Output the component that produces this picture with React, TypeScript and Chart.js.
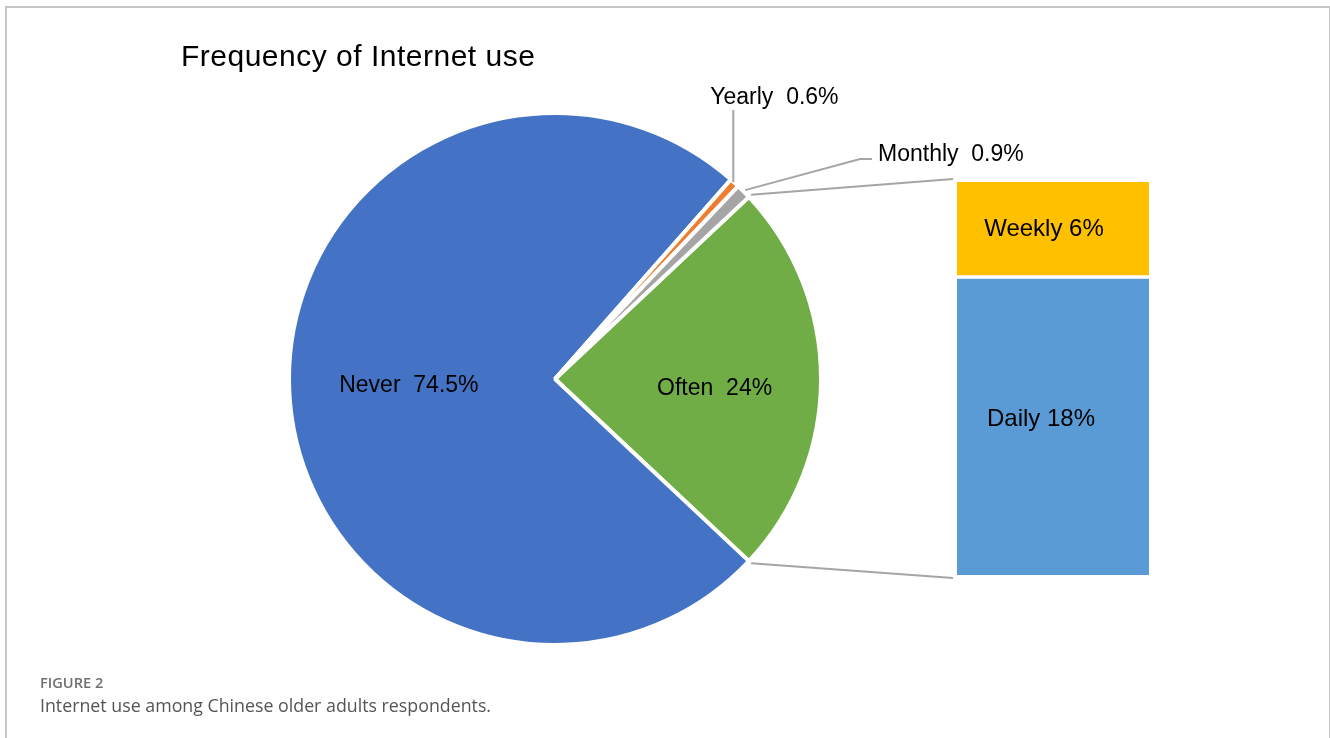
import React, { useEffect, useRef } from "react";
import { Chart, registerables } from "chart.js";

Chart.register(...registerables);

// ---- data ----
const pieLabels = ["Often", "Never", "Yearly", "Monthly"];
const pieValues = [24, 74.5, 0.6, 0.9];
const pieColors = ["#70AD47", "#4472C4", "#ED7D31", "#A5A5A5"];

const barLabels = ["Daily", "Weekly"];
const barValues = [18.2, 5.8];
const barColors = ["#5B9BD5", "#FFC000"];

const titleText = "Frequency of Internet use";
const figureLabel = "FIGURE 2";
const captionText = "Internet use among Chinese older adults respondents.";

const W = 1330;
const H = 738;
const FONT = "'Liberation Sans', Arial, sans-serif";
const LINE = "#A5A5A5";

export default function App() {
  const pieRef = useRef<HTMLCanvasElement | null>(null);
  const barRef = useRef<HTMLCanvasElement | null>(null);

  useEffect(() => {
    if (!pieRef.current || !barRef.current) return;

    const barLabelPlugin = {
      id: "barLabels",
      afterDatasetsDraw(chart: any) {
        const ctx = chart.ctx;
        ctx.save();
        ctx.fillStyle = "#000";
        ctx.font = `24px ${FONT}`;
        ctx.textAlign = "center";
        ctx.textBaseline = "middle";
        chart.data.datasets.forEach((ds: any, i: number) => {
          const el = chart.getDatasetMeta(i).data[0];
          if (!el) return;
          const { x, y, base } = el.getProps(["x", "y", "base"], true);
          const txt = `${ds.label} ${Math.round(ds.data[0])}%`;
          ctx.fillText(txt, x - (i === 0 ? 12 : 9), (y + base) / 2 - (i === 0 ? 7 : 0));
        });
        ctx.restore();
      },
    };

    const barChart = new Chart(barRef.current, {
      type: "bar",
      data: {
        labels: ["Often"],
        datasets: barLabels.map((l, i) => ({
          label: l,
          data: [barValues[i]],
          backgroundColor: barColors[i],
          borderColor: "#ffffff",
          borderWidth:
            i === 0
              ? { top: 2, left: 0, right: 0, bottom: 0 }
              : { top: 0, left: 0, right: 0, bottom: 2 },
          borderSkipped: false,
          barPercentage: 1,
          categoryPercentage: 1,
        })),
      },
      options: {
        responsive: false,
        animation: false,
        layout: { padding: { left: 957, right: 181, top: 182, bottom: 163 } },
        scales: {
          x: { stacked: true, display: false },
          y: { stacked: true, display: false, min: 0, max: 24 },
        },
        plugins: { legend: { display: false }, tooltip: { enabled: false } },
      },
      plugins: [barLabelPlugin],
    } as any);

    const piePlugin = {
      id: "pieExtras",
      afterDraw(chart: any) {
        const ctx = chart.ctx;
        const arcs = chart.getDatasetMeta(0).data;
        ctx.save();

        // title
        ctx.fillStyle = "#000";
        ctx.font = `30px ${FONT}`;
        (ctx as any).letterSpacing = "0.5px";
        ctx.textAlign = "left";
        ctx.textBaseline = "middle";
        ctx.fillText(titleText, 181, 58);
        (ctx as any).letterSpacing = "0px";

        ctx.font = `23px ${FONT}`;
        const lbl = (i: number) => `${pieLabels[i]}  ${pieValues[i]}%`;

        // inner labels
        [0, 1].forEach((i) => {
          const a = arcs[i];
          const p = a.getProps(["x", "y", "startAngle", "endAngle", "outerRadius"], true);
          const mid = (p.startAngle + p.endAngle) / 2;
          const f = i === 0 ? 0.6 : 0.55;
          const dy = i === 0 ? 10 : 0;
          ctx.textAlign = "center";
          ctx.fillText(lbl(i), p.x + Math.cos(mid) * p.outerRadius * f, p.y + Math.sin(mid) * p.outerRadius * f + dy);
        });

        ctx.strokeStyle = LINE;
        ctx.lineWidth = 2;

        // Yearly leader
        {
          const p = arcs[2].getProps(["x", "y", "startAngle", "endAngle", "outerRadius"], true);
          const mid = (p.startAngle + p.endAngle) / 2;
          const sx = p.x + Math.cos(mid) * (p.outerRadius - 2);
          const sy = p.y + Math.sin(mid) * (p.outerRadius - 2);
          ctx.beginPath();
          ctx.moveTo(sx, sy - 2);
          ctx.lineTo(sx, 110);
          ctx.stroke();
          ctx.textAlign = "left";
          ctx.fillText(lbl(2), sx - 23, 98);
        }
        // Monthly leader
        {
          const p = arcs[3].getProps(["x", "y", "startAngle", "endAngle", "outerRadius"], true);
          const mid = (p.startAngle + p.endAngle) / 2;
          const sx = p.x + Math.cos(mid) * (p.outerRadius + 2);
          const sy = p.y + Math.sin(mid) * (p.outerRadius + 2);
          ctx.beginPath();
          ctx.moveTo(sx, sy);
          ctx.lineTo(860, 159);
          ctx.lineTo(872, 159);
          ctx.stroke();
          ctx.textAlign = "left";
          ctx.fillText(lbl(3), 878, 155);
        }

        // connectors from Often slice to stacked bar
        {
          const p = arcs[0].getProps(["x", "y", "startAngle", "endAngle", "outerRadius"], true);
          const r = p.outerRadius + 3;
          const top = barChart.getDatasetMeta(1).data[0].getProps(["x", "y", "width"], true);
          const bot = barChart.getDatasetMeta(0).data[0].getProps(["x", "base", "width"], true);
          ctx.beginPath();
          ctx.moveTo(p.x + Math.cos(p.startAngle) * r, p.y + Math.sin(p.startAngle) * r);
          ctx.lineTo(top.x - top.width / 2 - 4, top.y - 3);
          ctx.stroke();
          ctx.beginPath();
          ctx.moveTo(p.x + Math.cos(p.endAngle) * r, p.y + Math.sin(p.endAngle) * r);
          ctx.lineTo(bot.x - bot.width / 2 - 4, bot.base + 3);
          ctx.stroke();
        }
        ctx.restore();
      },
    };

    const pieChart = new Chart(pieRef.current, {
      type: "pie",
      data: {
        labels: pieLabels,
        datasets: [
          {
            data: pieValues,
            backgroundColor: pieColors,
            borderColor: "#ffffff",
            borderWidth: 4,
          },
        ],
      },
      options: {
        responsive: false,
        animation: false,
        rotation: 46.8,
        radius: 266,
        layout: { padding: { left: 291, right: 511, top: 115, bottom: 95 } },
        plugins: { legend: { display: false }, tooltip: { enabled: false } },
      },
      plugins: [piePlugin],
    } as any);

    return () => {
      pieChart.destroy();
      barChart.destroy();
    };
  }, []);

  return (
    <div
      style={{
        position: "fixed",
        left: 0,
        top: 0,
        width: W,
        height: H,
        background: "#fff",
        overflow: "hidden",
      }}
    >
      <div
        style={{
          position: "absolute",
          left: 5,
          top: 6,
          width: 1322,
          height: 900,
          border: "2px solid #c6c6c6",
        }}
      />
      <canvas
        ref={pieRef}
        width={W}
        height={H}
        style={{ position: "absolute", left: 0, top: 0, width: W, height: H }}
      />
      <canvas
        ref={barRef}
        width={W}
        height={H}
        style={{ position: "absolute", left: 0, top: 0, width: W, height: H }}
      />
      <div
        style={{
          position: "absolute",
          left: 40,
          top: 673,
          fontFamily: "'Open Sans', sans-serif",
          fontWeight: 600,
          fontSize: 14.6,
          color: "#707070",
          lineHeight: "18px",
        }}
      >
        {figureLabel}
      </div>
      <div
        style={{
          position: "absolute",
          left: 40,
          top: 693,
          fontFamily: "'Open Sans', sans-serif",
          fontSize: 17.8,
          color: "#555",
          lineHeight: "24px",
        }}
      >
        {captionText}
      </div>
    </div>
  );
}
